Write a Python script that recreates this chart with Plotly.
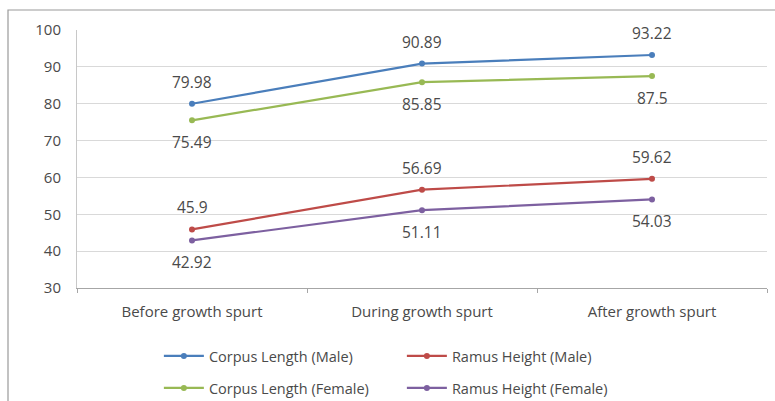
import plotly.graph_objects as go

categories = ["Before growth spurt", "During growth spurt", "After growth spurt"]
corpus_male = [79.98, 90.89, 93.22]
ramus_male = [45.9, 56.69, 59.62]
corpus_female = [75.49, 85.85, 87.5]
ramus_female = [42.92, 51.11, 54.03]
y_ticks = [30, 40, 50, 60, 70, 80, 90, 100]

series = [
    ("Corpus Length (Male)", corpus_male, "#4A7EBB", "legend", 22),
    ("Ramus Height (Male)", ramus_male, "#BE4B48", "legend", 22),
    ("Corpus Length (Female)", corpus_female, "#98B954", "legend2", -22),
    ("Ramus Height (Female)", ramus_female, "#7D60A0", "legend2", -22),
]

FONT = "Open Sans"
TXT = "#4a4a4a"

fig = go.Figure()
for name, vals, color, leg, shift in series:
    fig.add_trace(go.Scatter(
        x=categories, y=vals, name=name, mode="lines+markers",
        line=dict(color=color, width=2.2),
        marker=dict(color=color, size=6, symbol="circle"),
        legend=leg,
    ))
    for c, v in zip(categories, vals):
        fig.add_annotation(x=c, y=v, text=str(v), showarrow=False, yshift=shift,
                           font=dict(family=FONT, size=15.5, color=TXT))

fig.add_shape(type="rect", xref="paper", yref="paper",
              x0=-0.1, x1=1.02, y0=-0.45, y1=1.0775,
              line=dict(color="#9a9a9a", width=1.2), fillcolor="rgba(0,0,0,0)", layer="below")

legend_common = dict(orientation="h", xref="container", yref="container",
                     xanchor="left", yanchor="middle",
                     entrywidth=188, entrywidthmode="pixels", bgcolor="rgba(0,0,0,0)",
                     font=dict(family=FONT, size=14.5, color=TXT), itemwidth=40)

fig.update_layout(
    width=775, height=401,
    margin=dict(l=77, r=8, t=30, b=113, autoexpand=False),
    paper_bgcolor="white", plot_bgcolor="white",
    font=dict(family=FONT, size=15, color=TXT),
    xaxis=dict(type="category", range=[-0.5, 2.5], showgrid=False,
               showline=True, linecolor="#a6a6a6", linewidth=1,
               ticks="outside", tickson="boundaries", ticklen=4, tickcolor="#a6a6a6",
               ticklabelstandoff=10,
               tickfont=dict(family=FONT, size=15, color=TXT)),
    yaxis=dict(range=[30, 100], tickvals=y_ticks, showgrid=True, gridcolor="#d9d9d9",
               gridwidth=1.3, zeroline=False, showline=True, linecolor="#c8c8c8",
               ticks="", ticklabelstandoff=12,
               tickfont=dict(family=FONT, size=15, color=TXT)),
    legend=dict(legend_common, x=0.205, y=1 - 356 / 401),
    legend2=dict(legend_common, x=0.205, y=1 - 388 / 401),
)

fig.write_html("out.html")
